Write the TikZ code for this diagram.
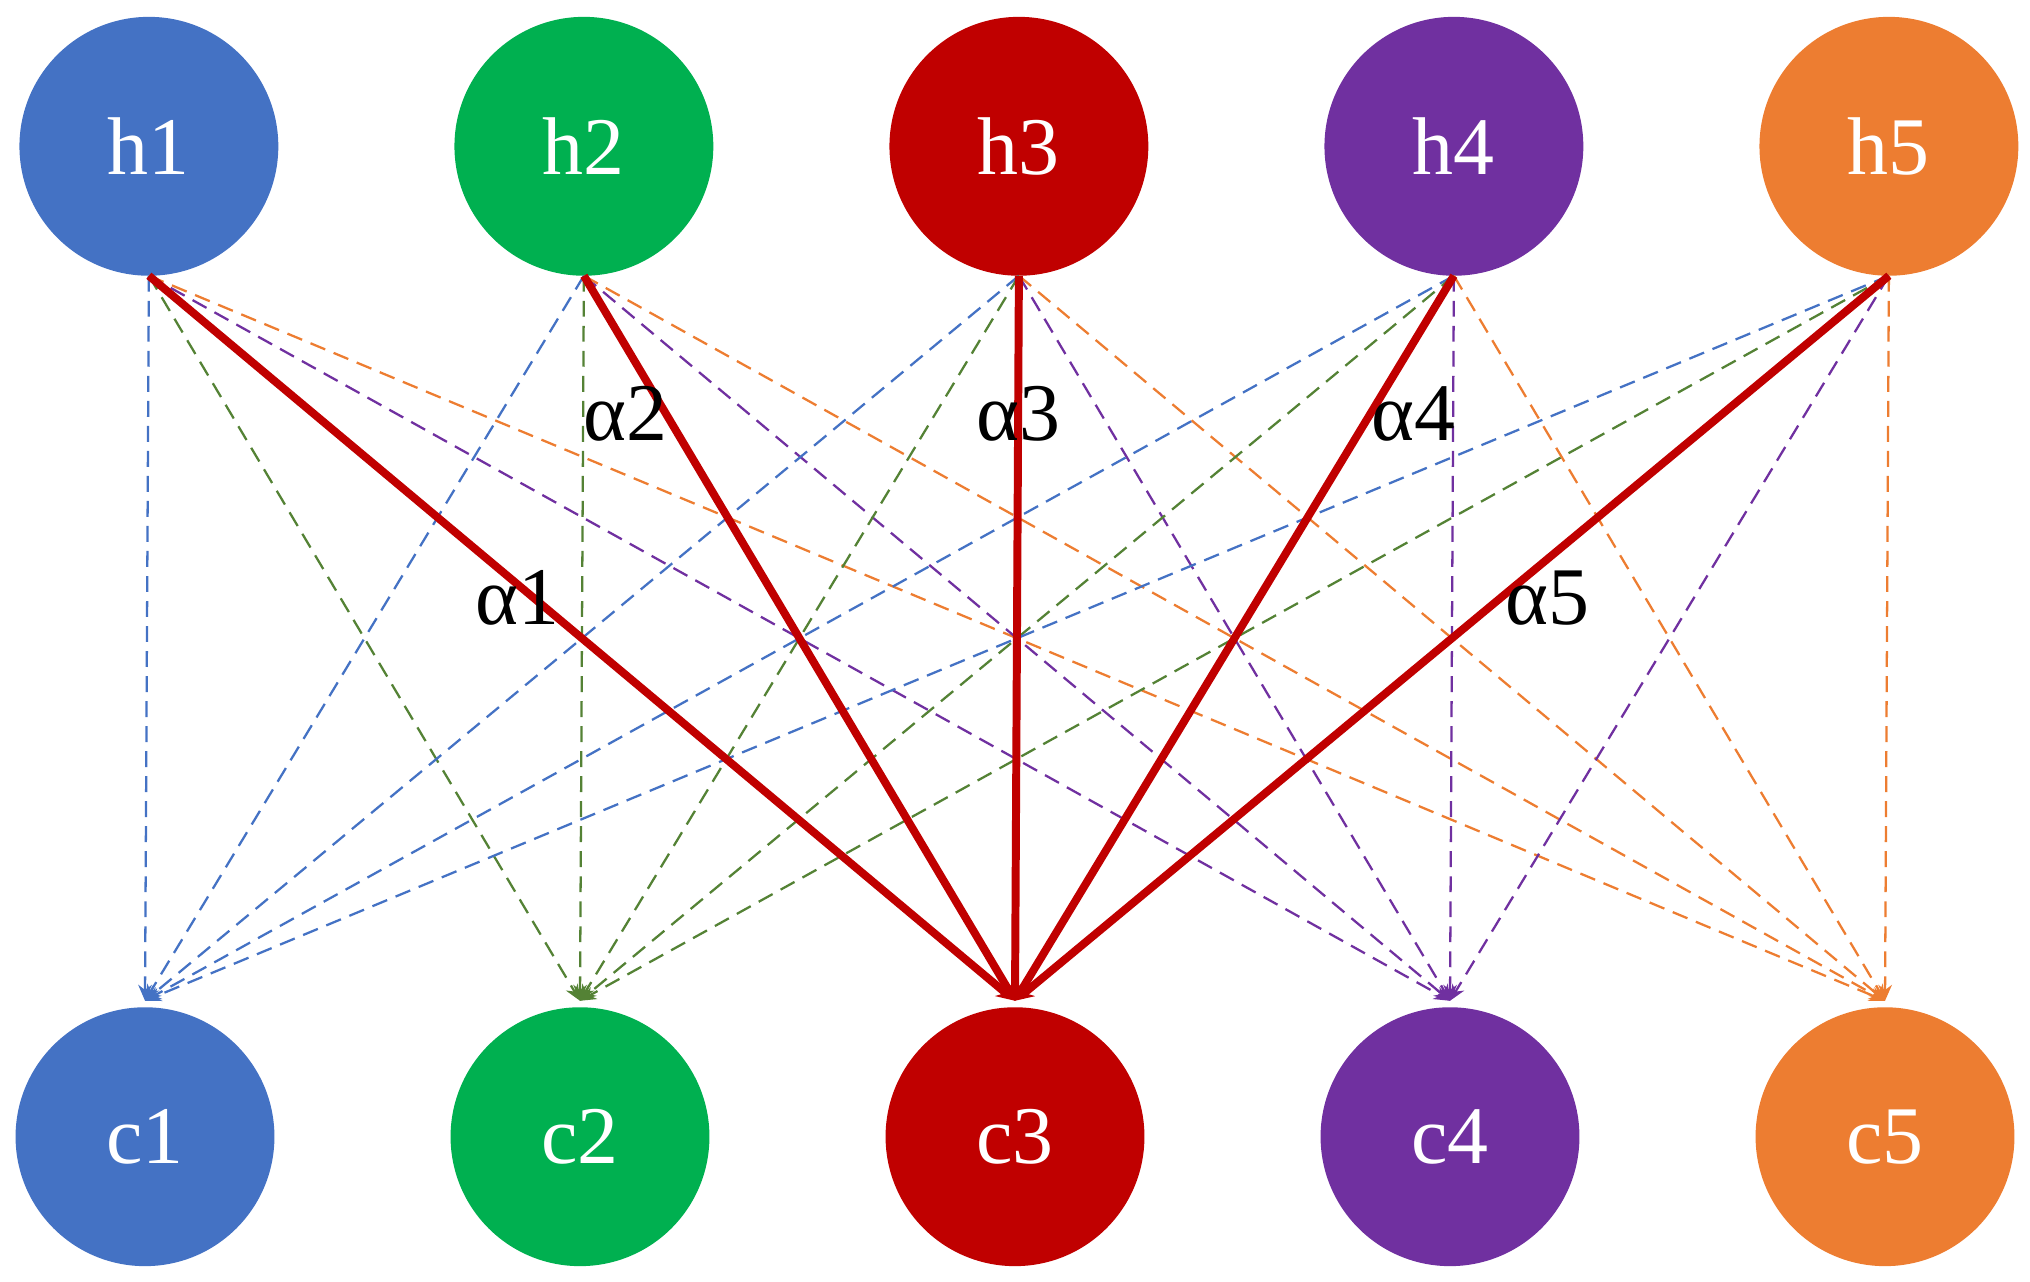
\documentclass[tikz,border=0pt]{standalone}
\usepackage{fontspec}
\setmainfont{Liberation Serif}
\usetikzlibrary{arrows.meta}
\definecolor{cb}{HTML}{4472C4}
\definecolor{cg}{HTML}{00B050}
\definecolor{cr}{HTML}{C00000}
\definecolor{cp}{HTML}{7030A0}
\definecolor{co}{HTML}{ED7D31}
\definecolor{lg}{HTML}{548235}
\begin{document}
\begin{tikzpicture}[x=0.02cm,y=-0.02cm,
 nd/.style={circle,minimum size=4cm,inner sep=0pt,text=white,font=\fontsize{36}{40}\selectfont},
 dl/.style={dashed,line width=1pt,dash pattern=on 7pt off 4pt,-{Stealth[length=7pt,width=6pt]}},
 rl/.style={line width=3.5pt,cr,-{Stealth[length=8pt,width=8pt]}},
 lb/.style={font=\fontsize{36}{40}\selectfont}]
\useasboundingbox (0,0) rectangle (1568,990);
\foreach \i/\c/\x in {1/cb/115,2/cg/451,3/cr/787,4/cp/1123,5/co/1459}{
  \node[nd,fill=\c] (h\i) at (\x,113) {h\i};
  \coordinate (hb\i) at (\x,213);
}
\foreach \i/\c/\x in {1/cb/112,2/cg/448,3/cr/784,4/cp/1120,5/co/1456}{
  \node[nd,fill=\c] (c\i) at (\x,878) {c\i};
  \coordinate (ct\i) at (\x,773);
}
\foreach \i in {1,...,5}{
  \draw[dl,cb] (hb\i) -- (ct1);
  \draw[dl,lg] (hb\i) -- (ct2);
  \draw[dl,cp] (hb\i) -- (ct4);
  \draw[dl,co] (hb\i) -- (ct5);
}
\foreach \i in {1,...,5}{ \draw[rl] (hb\i) -- (ct3); }
\node[lb] (a1) at (400,462) {α1};
\node[lb] (a2) at (483,320) {α2};
\node[lb] (a3) at (787,320) {α3};
\node[lb] (a4) at (1092,320) {α4};
\node[lb] (a5) at (1195,462) {α5};
\end{tikzpicture}
\end{document}
